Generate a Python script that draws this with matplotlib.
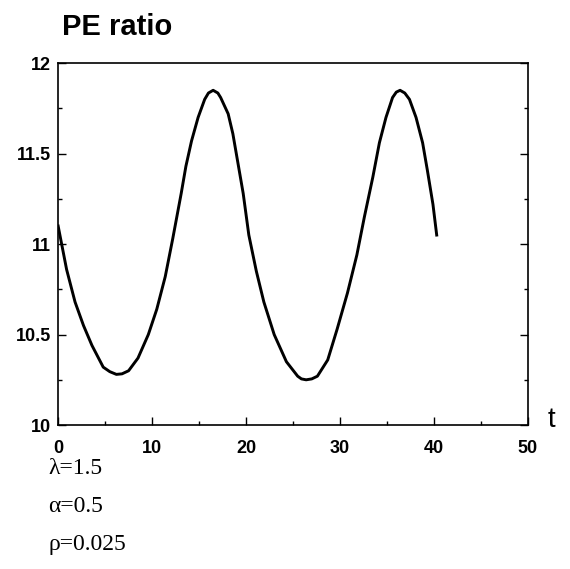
import matplotlib
matplotlib.use('Agg')
import matplotlib.pyplot as plt
from matplotlib.ticker import MultipleLocator

# values
t_vals = [0.0, 0.9, 1.8, 2.7, 3.6, 4.8, 5.5, 6.2, 6.8, 7.5, 8.5, 9.6, 10.5,
          11.4, 12.2, 13.1, 13.6, 14.2, 14.9, 15.6, 16.0, 16.5, 17.0, 17.3,
          18.1, 18.6, 19.1, 19.7, 20.3, 21.1, 21.9, 23.0, 24.3, 25.5, 25.9,
          26.4, 27.0, 27.6, 28.7, 29.7, 30.8, 31.8, 32.6, 33.5, 34.2, 34.9,
          35.6, 36.0, 36.4, 36.9, 37.4, 38.1, 38.8, 39.3, 39.9, 40.3]
pe_vals = [11.10, 10.86, 10.68, 10.55, 10.44, 10.32, 10.295, 10.28, 10.283,
           10.30, 10.37, 10.50, 10.64, 10.82, 11.03, 11.28, 11.43, 11.57, 11.70,
           11.80, 11.835, 11.85, 11.835, 11.81, 11.72, 11.61, 11.46, 11.28, 11.05,
           10.85, 10.68, 10.50, 10.35, 10.27, 10.255, 10.25, 10.255, 10.27, 10.36,
           10.53, 10.73, 10.94, 11.15, 11.37, 11.56, 11.70, 11.81, 11.84, 11.85,
           11.835, 11.80, 11.70, 11.56, 11.41, 11.22, 11.05]

x_ticks = [0, 10, 20, 30, 40, 50]
y_ticks = [10, 10.5, 11, 11.5, 12]
y_ticklabels = ['10', '10.5', '11', '11.5', '12']
params = ['\u03bb=1.5', '\u03b1=0.5', '\u03c1=0.025']

plt.rcParams['font.family'] = ['Liberation Sans', 'DejaVu Sans']

fig = plt.figure(figsize=(5.70, 5.69), dpi=100)
ax = fig.add_axes([0.102, 0.253, 0.824, 0.636])

ax.plot(t_vals, pe_vals, color='black', linewidth=2.1, solid_joinstyle='round')

ax.set_xlim(0, 50)
ax.set_ylim(10, 12)
ax.set_xticks(x_ticks)
ax.set_yticks(y_ticks)
ax.set_yticklabels(y_ticklabels)
ax.xaxis.set_minor_locator(MultipleLocator(5))
ax.yaxis.set_minor_locator(MultipleLocator(0.25))
ax.tick_params(which='both', direction='in', right=True, top=False, labelsize=13, width=1)
ax.tick_params(which='major', length=6)
ax.tick_params(which='minor', length=3)
ax.tick_params(axis='x', pad=11)
ax.tick_params(axis='y', pad=5)
for lab in ax.get_xticklabels() + ax.get_yticklabels():
    lab.set_fontweight('bold')
for sp in ax.spines.values():
    sp.set_linewidth(1.2)

fig.text(0.109, 0.938, 'PE ratio', fontsize=21, fontweight='bold', ha='left', va='baseline')
fig.text(0.968, 0.262, 't', fontsize=20, ha='center', va='center')

for i, s in enumerate(params):
    fig.text(0.085, 0.177 - i * 0.067, s, fontsize=17, ha='left', va='center',
             family=['Liberation Serif', 'DejaVu Serif'])

fig.savefig('out.png', dpi=100, facecolor='white')
